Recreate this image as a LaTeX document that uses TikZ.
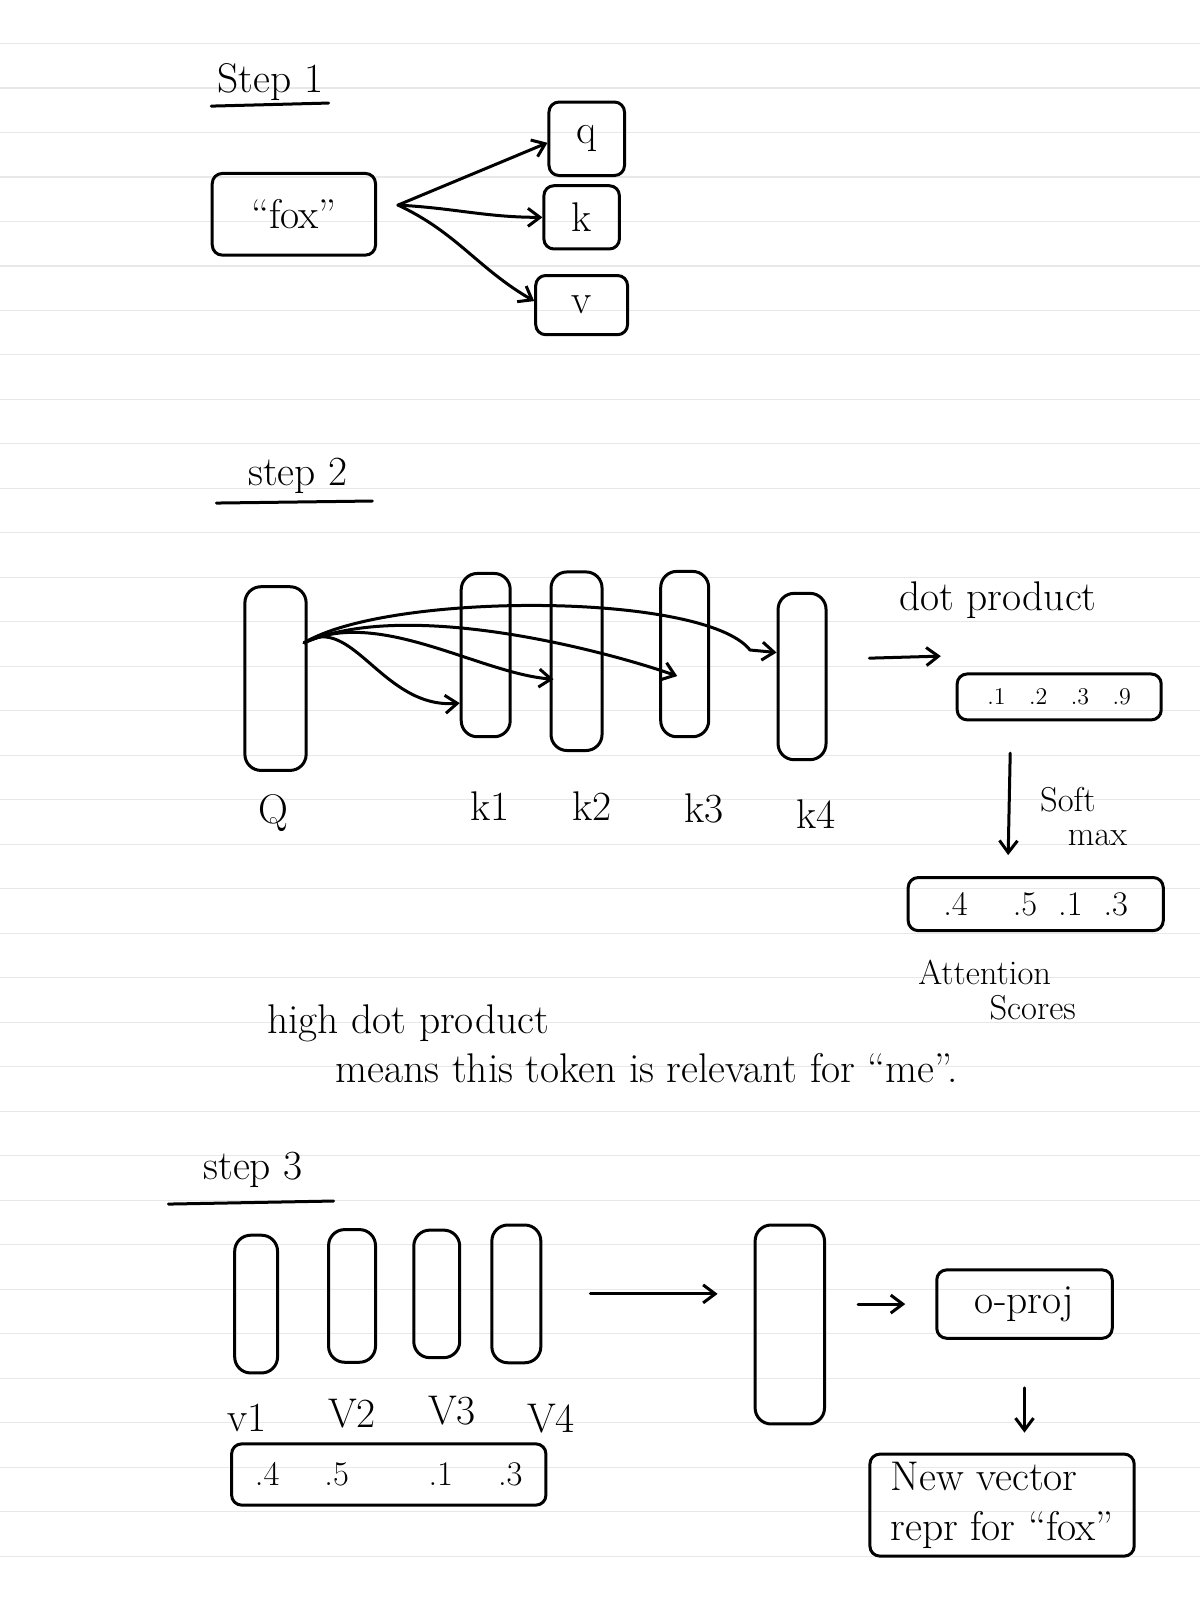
\documentclass[tikz,border=0pt]{standalone}
\usetikzlibrary{arrows.meta,positioning}
\newcommand\pxu{0.5102pt}
\tikzset{
  ink/.style={line width=1.5pt, line cap=round, line join=round},
  arr/.style={ink, -{Straight Barb[length=6pt,width=9pt]}},
  box/.style={ink, draw, rounded corners=5pt, inner sep=0pt},
  vecbox/.style={ink, draw, rounded corners=8pt, inner sep=0pt},
  lbl/.style={font=\huge},
  rule/.style={gray!18, line width=0.6pt},
}
\begin{document}
\begin{tikzpicture}[x=\pxu, y=-\pxu]
  \useasboundingbox (0,0) rectangle (1176,1568);
  \fill[white] (0,0) rectangle (1176,1568);
  % ruled paper
  \foreach \n in {0,...,34}
    \draw[rule] (0,{42.6+43.6*\n}) -- (1176,{42.6+43.6*\n});

  % step 1
  \node[lbl] (s1) at (265,80) {Step 1};
  \draw[ink] (207,104) -- (322,101);
  \node[box, lbl, minimum width={160*\pxu}, minimum height={80*\pxu}] (fox) at (288,210) {``fox''};
  \node[box, lbl, minimum width={74*\pxu}, minimum height={72*\pxu}] (q) at (575,136) {q};
  \node[box, lbl, minimum width={74*\pxu}, minimum height={62*\pxu}] (k) at (570,213) {k};
  \node[box, lbl, minimum width={90*\pxu}, minimum height={58*\pxu}] (v) at (570,299) {v};
  \coordinate (fork) at (390,201);
  \draw[arr] (fork) -- ([yshift=-2pt]q.west);
  \draw[arr] (fork) to[out=-3, in=180] (k.west);
  \draw[arr] (fork) to[out=-25, in=150] ([yshift=2pt]v.west);

  % step 2
  \node[lbl] (s2) at (292,466) {step 2};
  \draw[ink] (212,493) -- (365,491);
  \node[vecbox, minimum width={60*\pxu}, minimum height={180*\pxu}] (Q) at (270,665) {};
  \node[vecbox, minimum width={48*\pxu}, minimum height={160*\pxu}] (k1) at (476,642) {};
  \node[vecbox, minimum width={50*\pxu}, minimum height={175*\pxu}] (k2) at (565,648) {};
  \node[vecbox, minimum width={47*\pxu}, minimum height={162*\pxu}] (k3) at (671,641) {};
  \node[vecbox, minimum width={47*\pxu}, minimum height={163*\pxu}] (k4) at (786,663) {};
  \node[lbl] (Qlab) at (268,797) {Q};
  \node[lbl] (k1lab) at (480,790) {k1};
  \node[lbl] (k2lab) at (580,790) {k2};
  \node[lbl] (k3lab) at (690,792) {k3};
  \node[lbl] (k4lab) at (800,798) {k4};
  \coordinate (qsrc) at (298,630);
  \draw[arr] (qsrc) .. controls (345,600) and (375,695) .. ([yshift=-24pt]k1.west);
  \draw[arr] (qsrc) .. controls (370,595) and (470,660) .. ([xshift=2pt,yshift=-9pt]k2.west);
  \draw[arr] (qsrc) .. controls (400,585) and (600,640) .. ([xshift=9pt,yshift=-11pt]k3.west);
  \draw[arr] (qsrc) .. controls (380,580) and (690,580) .. (735,637) -- ([yshift=12pt]k4.west);
  \node[lbl] (dotlab) at (978,588) {dot product};
  \node[box, font=\large, minimum width={200*\pxu}, minimum height={45*\pxu}] (dotbox) at (1038,683) {.1 \ \ .2 \ \ .3 \ \ .9};
  \coordinate (dp1) at (852,645);
  \coordinate (dp2) at (922,643);
  \draw[arr] (dp1) -- (dp2);
  \coordinate (sm1) at (990,738);
  \coordinate (sm2) at (988,838);
  \draw[arr] (sm1) -- (sm2);
  \node[font=\LARGE, align=left, inner sep=0pt] (smlab) at (1062,800) {Soft\\[-5pt]\hspace{0.8em}max};
  \node[box, font=\LARGE, minimum width={250*\pxu}, minimum height={52*\pxu}] (attbox) at (1015,886) {.4 \quad .5 \ .1 \ .3};
  \node[font=\LARGE, inner sep=0pt] (attlab) at (965,953) {Attention};
  \node[font=\LARGE, inner sep=0pt] (scorelab) at (1012,988) {Scores};
  \node[lbl, anchor=west] (note1) at (255,1003) {high dot product};
  \node[lbl, anchor=west] (note2) at (322,1047) {means this token is relevant for ``me''.};

  % step 3
  \node[lbl] (s3) at (248,1146) {step 3};
  \draw[ink] (165,1180) -- (327,1177);
  \node[vecbox, minimum width={42*\pxu}, minimum height={135*\pxu}] (v1) at (251,1278) {};
  \node[vecbox, minimum width={46*\pxu}, minimum height={130*\pxu}] (v2) at (345,1270) {};
  \node[vecbox, minimum width={45*\pxu}, minimum height={125*\pxu}] (v3) at (428,1268) {};
  \node[vecbox, minimum width={48*\pxu}, minimum height={135*\pxu}] (v4) at (506,1268) {};
  \node[lbl] (v1lab) at (242,1390) {v1};
  \node[lbl] (v2lab) at (345,1385) {V2};
  \node[lbl] (v3lab) at (443,1382) {V3};
  \node[lbl] (v4lab) at (540,1390) {V4};
  \node[box, font=\LARGE, minimum width={308*\pxu}, minimum height={60*\pxu}] (wbox) at (381,1445) {.4 \quad .5 \qquad .1 \quad .3};
  \node[vecbox, minimum width={68*\pxu}, minimum height={195*\pxu}] (outv) at (774,1298) {};
  \draw[arr, shorten <=24pt, shorten >=18pt] (v4.east) -- (v4.east -| outv.west);
  \node[box, lbl, minimum width={172*\pxu}, minimum height={67*\pxu}] (proj) at (1004,1278) {o-proj};
  \draw[arr, shorten <=16pt, shorten >=15pt] (outv.east |- proj.west) -- (proj.west);
  \node[box, font=\huge, align=left, minimum width={259*\pxu}, minimum height={100*\pxu}] (newv) at (982,1475) {New vector\\repr for ``fox''};
  \draw[arr, shorten <=24pt, shorten >=10pt] (proj.south) -- (newv.north -| proj.south);
\end{tikzpicture}
\end{document}
